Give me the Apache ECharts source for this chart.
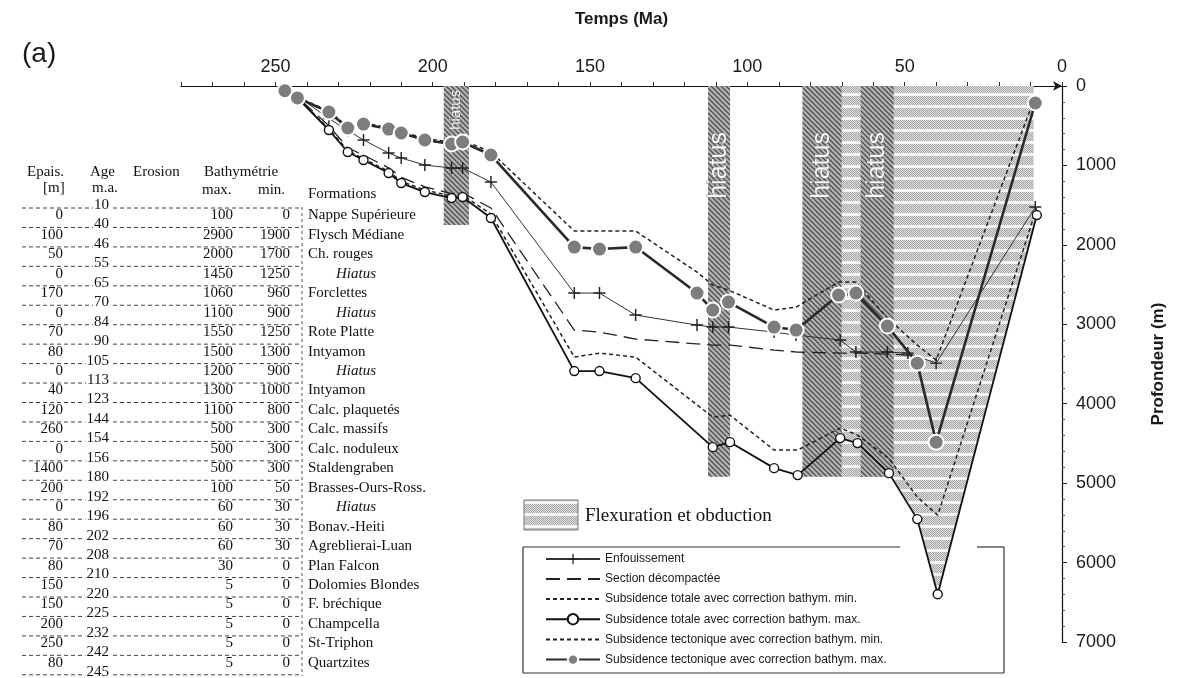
<!DOCTYPE html>
<html><head><meta charset="utf-8">
<script src="https://cdn.jsdelivr.net/npm/echarts@6/dist/echarts.min.js"></script>
<style>html,body{margin:0;padding:0;background:#fff}#c{width:1194px;height:678px}</style>
</head><body><div id="c"></div><script>
// ---------- table data ----------
const ageLabels = [10,40,46,55,65,70,84,90,105,113,123,144,154,156,180,192,196,202,208,210,220,225,232,242,245];
const epais = [0,100,50,0,170,0,70,80,0,40,120,260,0,1400,200,0,80,70,80,150,150,200,250,80];
const bathyMax = [100,2900,2000,1450,1060,1100,1550,1500,1200,1300,1100,500,500,500,100,60,60,60,30,5,5,5,5,5];
const bathyMin = [0,1900,1700,1250,960,900,1250,1300,900,1000,800,300,300,300,50,30,30,30,0,0,0,0,0,0];
const formations = ['Nappe Supérieure','Flysch Médiane','Ch. rouges','Hiatus','Forclettes','Hiatus','Rote Platte','Intyamon','Hiatus','Intyamon','Calc. plaquetés','Calc. massifs','Calc. noduleux','Staldengraben','Brasses-Ours-Ross.','Hiatus','Bonav.-Heiti','Agreblierai-Luan','Plan Falcon','Dolomies Blondes','F. bréchique','Champcella','St-Triphon','Quartzites'];

// ---------- series data (age Ma, depth m) ----------
const burAge   = [247,243,233,227,222,214,210,202.5,194,190.5,181.5,155,147,135.5,116,111,106,91.5,84.5,70.5,65.5,55.5,49,40,8.5];
const burDepth = [40,126,410,560,680,844,907,995,1033,1033,1209,2607,2607,2884,3010,3035,3035,3098,3136,3199,3350,3350,3363,3489,1524];

const decAge   = [247,243,233,227,222,214,210,202.5,194,190.5,181.5,155,147,135.5,111,105.5,91.5,84,70.5,65,55,48.5];
const decDepth = [60,140,500,780,870,1030,1150,1270,1355,1345,1536,3073,3098,3186,3262,3262,3325,3350,3363,3363,3375,3390];

const totAge      = [247,243,233,227,222,214,210,202.5,194,190.5,181.5,155,147,135.5,111,105.5,91.5,84,70.5,65,55,46,39.5,8];
const totMaxDepth = [60,150,554,831,932,1096,1222,1335,1411,1398,1662,3589,3589,3678,4547,4484,4811,4899,4433,4496,4874,5453,6398,1625];
const totMinDepth = [55,145,540,815,915,1075,1200,1310,1385,1375,1612,3413,3363,3413,4169,4144,4584,4584,4307,4395,4690,5176,5403,1530];

const tectAge      = [247,243,233,227,222,214,210,202.5,194,190.5,181.5,155,147,135.5,116,111,106,91.5,84.5,71,65.5,55.5,46,40,8.5];
const tectMaxDepth = [60,150,327,529,479,542,592,680,730,705,869,2028,2053,2028,2607,2821,2720,3035,3073,2632,2607,3023,3489,4484,214];
const tectMinDepth = [50,140,315,515,465,525,575,660,705,680,831,1826,1826,1826,2343,2506,2569,2821,2783,2469,2469,2922,3262,3451,130];

const hiatusFrom = [196.5,112.5,82.5,64];
const hiatusTo   = [188.5,105.5,70,53.5];
const hiatusBase = [1750,4920,4920,4920];
const flexFrom = 70, flexTo = 9;

const xTicks = [0,50,100,150,200,250];

// ---------- patterns ----------
function hatch(){const c=document.createElement('canvas');c.width=5;c.height=5;const g=c.getContext('2d');
 g.fillStyle='#b4b4b4';g.fillRect(0,0,5,5);g.strokeStyle='#4e4e4e';g.lineWidth=1.3;g.beginPath();
 g.moveTo(-1,-1);g.lineTo(6,6);g.moveTo(-1,4);g.lineTo(1,6);g.moveTo(4,-1);g.lineTo(6,1);g.stroke();return c;}
function flexPat(){const c=document.createElement('canvas');c.width=4;c.height=12;const g=c.getContext('2d');
 g.fillStyle='#f4f4f4';g.fillRect(0,0,4,12);
 for(let y=0;y<9;y++)for(let x=0;x<4;x++){g.fillStyle=((x+y)%2===0)?'#a6a6a6':'#dedede';g.fillRect(x,y,1,1);}return c;}
const hatchImg=hatch(), flexImg=flexPat();

function interp(ages, vals, a){for(let i=0;i<ages.length-1;i++){const a0=ages[i],a1=ages[i+1];if((a-a0)*(a-a1)<=0){return vals[i]+(vals[i+1]-vals[i])*(a-a0)/(a1-a0);}}return vals[vals.length-1];}

const zip=(a,b)=>a.map((v,i)=>[v,b[i]]);
const SANS='"Liberation Sans", Arial, sans-serif', SERIF='"Liberation Serif", "Times New Roman", serif';

// ---------- table graphics ----------
const gfx=[];
const rowY=i=>205+19.45*i;
gfx.push({type:'text',x:22,y:40,style:{text:'(a)',font:'28px '+SANS,fill:'#1a1a1a'}});
const hdr=[['Epais.',27,172],['[m]',43,188],['Age',90,172],['m.a.',92,188],['Erosion',133,172],['Bathymétrie',204,172],['max.',202,190],['min.',258,190],['Formations',308,194]];
hdr.forEach(h=>gfx.push({type:'text',x:h[1],y:h[2],style:{text:h[0],font:'15px '+SERIF,fill:'#111',align:'left',verticalAlign:'middle'}}));
gfx.push({type:'line',shape:{x1:302,y1:207,x2:302,y2:676},style:{stroke:'#555',lineWidth:1,lineDash:[3,3]}});
ageLabels.forEach((a,i)=>{
 gfx.push({type:'line',shape:{x1:22,y1:rowY(i)+3,x2:301,y2:rowY(i)+3},style:{stroke:'#444',lineWidth:1,lineDash:[4,3]}});
 gfx.push({type:'text',x:110,y:rowY(i),style:{text:String(a),font:'15px '+SERIF,fill:'#111',align:'right',verticalAlign:'middle',backgroundColor:'#fff',padding:[0,1]}});
});
formations.forEach((f,j)=>{
 const y=rowY(j)+10.5;
 gfx.push({type:'text',x:63,y:y,style:{text:String(epais[j]),font:'15px '+SERIF,fill:'#111',align:'right',verticalAlign:'middle'}});
 gfx.push({type:'text',x:233,y:y,style:{text:String(bathyMax[j]),font:'15px '+SERIF,fill:'#111',align:'right',verticalAlign:'middle'}});
 gfx.push({type:'text',x:290,y:y,style:{text:String(bathyMin[j]),font:'15px '+SERIF,fill:'#111',align:'right',verticalAlign:'middle'}});
 const it=f==='Hiatus';
 gfx.push({type:'text',x:it?336:308,y:y,style:{text:f,font:(it?'italic ':'')+'15px '+SERIF,fill:'#111',align:'left',verticalAlign:'middle'}});
});
// flexuration legend swatch
gfx.push({type:'rect',shape:{x:524,y:500,width:54,height:30},style:{fill:{image:flexImg,repeat:'repeat'},stroke:'#777',lineWidth:1}});
gfx.push({type:'text',x:585,y:516,style:{text:'Flexuration et obduction',font:'19px '+SERIF,fill:'#111',verticalAlign:'middle'}});
// legend box border
[[523,547,900,547],[977,547,1004,547],[1004,547,1004,673],[523,673,1004,673],[523,547,523,673]].forEach(s=>
 gfx.push({type:'line',shape:{x1:s[0],y1:s[1],x2:s[2],y2:s[3]},style:{stroke:'#333',lineWidth:1.2}}));

const NAMES=['Enfouissement','Section décompactée','Subsidence totale avec correction bathym. min.','Subsidence totale avec correction bathym. max.','Subsidence tectonique avec correction bathym. min.','Subsidence tectonique avec correction bathym. max.'];
const noSym={opacity:0,color:'transparent',borderColor:'transparent'};

const chart=echarts.init(document.getElementById('c'),null,{renderer:'canvas'});
chart.setOption({
 animation:false,
 backgroundColor:'#fff',
 grid:{left:181,right:132,top:86,bottom:36},
 xAxis:{type:'value',position:'top',inverse:true,min:0,max:280,interval:10,
  name:'Temps (Ma)',nameLocation:'middle',nameGap:58,nameTextStyle:{fontSize:17,fontWeight:'bold',fontFamily:SANS,color:'#1a1a1a'},
  axisLine:{show:true,lineStyle:{color:'#111',width:1.2},symbol:['none','arrow'],symbolSize:[7,9]},
  axisTick:{show:true,length:4,lineStyle:{color:'#333'}},
  axisLabel:{fontSize:18,fontFamily:SANS,color:'#1a1a1a',margin:10,formatter:v=>xTicks.indexOf(v)>=0?String(v):''},
  splitLine:{show:false}},
 yAxis:{type:'value',position:'right',inverse:true,min:0,max:7000,interval:1000,
  name:'Profondeur (m)',nameLocation:'middle',nameGap:88,nameTextStyle:{fontSize:17,fontWeight:'bold',fontFamily:SANS,color:'#1a1a1a'},
  axisLine:{show:true,lineStyle:{color:'#111',width:1.2}},
  axisTick:{show:true,length:5,lineStyle:{color:'#222'}},
  minorTick:{show:true,splitNumber:5,length:3,lineStyle:{color:'#555'}},
  axisLabel:{fontSize:18,fontFamily:SANS,color:'#1a1a1a',margin:14,formatter:v=>String(v)},
  splitLine:{show:false}},
 legend:{data:[
   {name:NAMES[0]},
   {name:NAMES[1],itemStyle:noSym},
   {name:NAMES[2],itemStyle:noSym},
   {name:NAMES[3]},
   {name:NAMES[4],itemStyle:noSym},
   {name:NAMES[5]}],
  orient:'vertical',left:545,top:553,itemWidth:54,itemHeight:13,itemGap:8,padding:0,selectedMode:false,
  textStyle:{fontSize:12,fontFamily:SANS,color:'#1a1a1a'}},
 graphic:gfx,
 series:[
  {type:'custom',name:'flex',z:1,silent:true,data:[[flexFrom,flexTo]],encode:{x:[0,1]},
   renderItem:(p,api)=>{
    const a0=api.value(0),a1=api.value(1);
    const pts=[[a0,0],[a1,0],[a1,interp(totAge,totMaxDepth,a1)]];
    const inside=totAge.map((a,i)=>[a,totMaxDepth[i]]).filter(q=>q[0]>a1&&q[0]<=55).sort((u,v)=>u[0]-v[0]);
    inside.forEach(q=>pts.push(q));
    const last=inside[inside.length-1][0];
    pts.push([last,hiatusBase[3]]);pts.push([a0,hiatusBase[3]]);
    return {type:'polygon',shape:{points:pts.map(q=>api.coord(q))},style:{fill:{image:flexImg,repeat:'repeat'}}};
   }},
  {type:'custom',name:'hiatus',z:1,silent:true,data:hiatusFrom.map((a,i)=>[a,hiatusTo[i],hiatusBase[i]]),encode:{x:[0,1],y:2},
   renderItem:(p,api)=>{
    const p0=api.coord([api.value(0),0]),p1=api.coord([api.value(1),api.value(2)]);
    const small=p.dataIndex===0;
    const cx=(p0[0]+p1[0])/2, ty=api.coord([0,small?300:1000])[1];
    return {type:'group',children:[
     {type:'rect',shape:{x:p0[0],y:p0[1],width:p1[0]-p0[0],height:p1[1]-p0[1]},style:{fill:{image:hatchImg,repeat:'repeat'}}},
     {type:'text',x:cx,y:ty,rotation:Math.PI/2,style:{text:'hiatus',fill:'#f8f8f8',stroke:'#666',lineWidth:0.7,font:(small?'15px ':'25px ')+SANS,align:'center',verticalAlign:'middle'}}
    ]};
   }},
  {type:'line',name:NAMES[2],data:zip(totAge,totMinDepth),showSymbol:false,symbol:'none',itemStyle:{color:'#222'},lineStyle:{color:'#222',width:1.5,type:[4,3]},z:3},
  {type:'line',name:NAMES[4],data:zip(tectAge,tectMinDepth),showSymbol:false,symbol:'none',itemStyle:{color:'#222'},lineStyle:{color:'#222',width:1.5,type:[4,3]},z:3},
  {type:'line',name:NAMES[1],data:zip(decAge,decDepth),showSymbol:false,symbol:'none',itemStyle:{color:'#222'},lineStyle:{color:'#222',width:1.3,type:[14,7]},z:3},
  {type:'line',name:NAMES[0],data:zip(burAge,burDepth),symbol:'path://M4.4,0h1.2v4.4h4.4v1.2h-4.4v4.4h-1.2v-4.4h-4.4v-1.2h4.4z',symbolSize:12,
   itemStyle:{color:'#222'},lineStyle:{color:'#333',width:1},z:4},
  {type:'line',name:NAMES[3],data:zip(totAge,totMaxDepth),symbol:'circle',symbolSize:9,
   itemStyle:{color:'#fff',borderColor:'#111',borderWidth:1.4},lineStyle:{color:'#111',width:1.8},z:5},
  {type:'line',name:NAMES[5],data:zip(tectAge,tectMaxDepth),symbol:'circle',symbolSize:15,
   itemStyle:{color:'#7d7d7d',borderColor:'#fff',borderWidth:2},lineStyle:{color:'#2a2a2a',width:2.6},z:6}
 ]
});
</script></body></html>
